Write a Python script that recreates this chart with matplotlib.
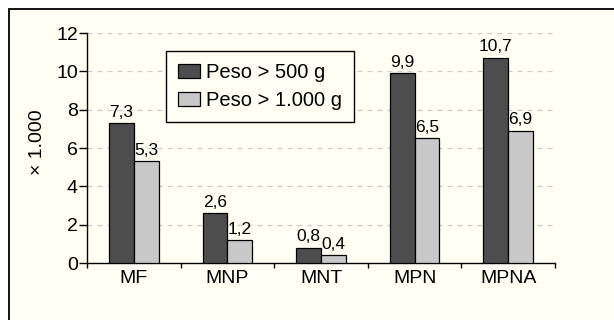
import matplotlib
matplotlib.use("Agg")
import matplotlib.pyplot as plt
from matplotlib.patches import Rectangle
from matplotlib.legend_handler import HandlerPatch
import numpy as np

categories = ["MF", "MNP", "MNT", "MPN", "MPNA"]
peso_500 = [7.3, 2.6, 0.8, 9.9, 10.7]
peso_1000 = [5.3, 1.2, 0.4, 6.5, 6.9]
labels_500 = ["7,3", "2,6", "0,8", "9,9", "10,7"]
labels_1000 = ["5,3", "1,2", "0,4", "6,5", "6,9"]
series_names = ["Peso > 500 g", "Peso > 1.000 g"]
yticks = [0, 2, 4, 6, 8, 10, 12]

plt.rcParams['font.family'] = ['Liberation Sans', 'DejaVu Sans']

W, H = 614, 320
fig = plt.figure(figsize=(W/100, H/100), dpi=100)
fig.patch.set_facecolor("white")
bg = "#fffff3"
frame = Rectangle((8.5/W, -0.1), 1.0, (H-8.5)/H + 0.1, transform=fig.transFigure,
                  facecolor=bg, edgecolor="black", linewidth=1.3, zorder=-10)
fig.patches.append(frame)

ax = fig.add_axes([87/W, 1 - 263/H, (555-87)/W, (263-33)/H])
ax.set_facecolor("none")
ax.set_zorder(5)

x = np.arange(len(categories))
bw = 0.265
dark = "#4d4d4d"
light = "#c8c8c8"
b1 = ax.bar(x - bw/2, peso_500, bw, color=dark, edgecolor="black", linewidth=0.9,
            label=series_names[0], zorder=3)
b2 = ax.bar(x + bw/2, peso_1000, bw, color=light, edgecolor="black", linewidth=0.9,
            label=series_names[1], zorder=3)
for bars, labs in ((b1, labels_500), (b2, labels_1000)):
    for rect, lab in zip(bars, labs):
        ax.annotate(lab, (rect.get_x() + rect.get_width()/2, rect.get_height()),
                    xytext=(0, 2.5), textcoords="offset points",
                    ha="center", va="bottom", fontsize=12.5, zorder=4)

ax.set_xlim(-0.5, len(categories) - 0.5)
ax.set_ylim(0, 12)
ax.set_yticks(yticks)
ax.set_yticklabels([str(t) for t in yticks], fontsize=14)
ax.set_xticks(x)
ax.set_xticklabels(categories, fontsize=14)
ax.tick_params(axis="x", which="major", length=0, pad=5)
ax.set_xticks(np.arange(-0.5, len(categories), 1.0), minor=True)
ax.tick_params(axis="x", which="minor", length=3.5, direction="out", width=1)
ax.tick_params(axis="y", length=5.5, direction="out", width=1, pad=1)
for t in yticks[1:]:
    ax.axhline(t, color="#cccccc", linestyle=(0, (4, 4)), linewidth=0.9, zorder=1)
ax.spines["top"].set_visible(False)
ax.spines["right"].set_visible(False)
ax.spines["left"].set_linewidth(1)
ax.spines["bottom"].set_linewidth(1)
fig.text(37/W, 1 - 142/H, "× 1.000", rotation=90, ha="center", va="center", fontsize=14)


def square_patch(legend, orig_handle, xdescent, ydescent, width, height, fontsize):
    s = 10.0
    return Rectangle((-xdescent + width - s, -ydescent + (height - s) / 2), s, s)


leg = ax.legend(loc="upper left", bbox_to_anchor=((166-87)/(555-87), 1 - (51-33)/(263-33)),
                fontsize=14.5, frameon=True, fancybox=False, handlelength=1.1,
                handleheight=0.7, handletextpad=0.3, borderpad=0.6, labelspacing=0.45,
                borderaxespad=0,
                handler_map={Rectangle: HandlerPatch(patch_func=square_patch)})
leg.get_frame().set_edgecolor("black")
leg.get_frame().set_linewidth(1)
leg.get_frame().set_facecolor(bg)
leg.get_frame().set_alpha(1)

fig.savefig("out.png", dpi=100, facecolor="white")
